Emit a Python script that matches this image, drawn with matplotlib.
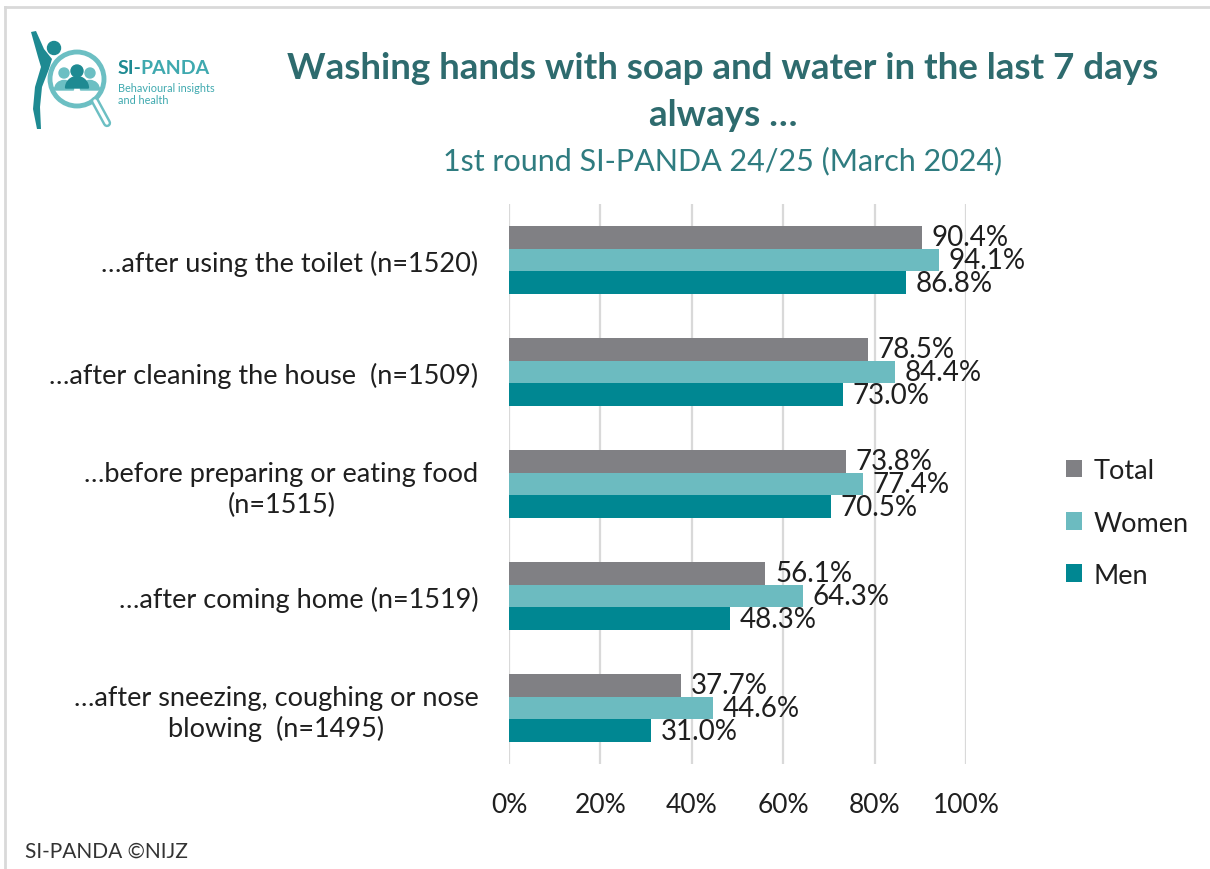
import matplotlib
matplotlib.use("Agg")
import matplotlib.pyplot as plt
from matplotlib.patches import Circle, Wedge, Polygon
from matplotlib.lines import Line2D
import numpy as np

plt.rcParams['font.family'] = ['Lato', 'DejaVu Sans']

categories = [
    "\u2026after using the toilet (n=1520)",
    "\u2026after cleaning the house  (n=1509)",
    "\u2026before preparing or eating food\n(n=1515)",
    "\u2026after coming home (n=1519)",
    "\u2026after sneezing, coughing or nose\nblowing  (n=1495)",
]
series_names = ["Total", "Women", "Men"]
total = [90.4, 78.5, 73.8, 56.1, 37.7]
women = [94.1, 84.4, 77.4, 64.3, 44.6]
men = [86.8, 73.0, 70.5, 48.3, 31.0]
xticks = [0, 20, 40, 60, 80, 100]
xtick_labels = ["0%", "20%", "40%", "60%", "80%", "100%"]

title = "Washing hands with soap and water in the last 7 days\nalways \u2026"
subtitle = "1st round SI-PANDA 24/25 (March 2024)"
footer = "SI-PANDA \u00a9NIJZ"

colors = ["#808084", "#6CBBC0", "#008792"]

W, H = 1210, 870
fig = plt.figure(figsize=(12.1, 8.7), dpi=100)

def fx(px):
    return px / W

def fy(py):
    return 1 - py / H

ax = fig.add_axes([fx(509), fy(765), fx(966) - fx(509), fy(205) - fy(765)])

bh = 0.205
y = np.arange(len(categories))
data = [total, women, men]
offsets = [-bh, 0, bh]
for vals, off, c, name in zip(data, offsets, colors, series_names):
    bars = ax.barh(y + off, vals, height=bh, color=c, label=name, zorder=3)
    for b, v in zip(bars, vals):
        ax.annotate(f"{v:.1f}%", xy=(v, b.get_y() + b.get_height() / 2),
                    xytext=(7, 0), textcoords="offset points",
                    ha="left", va="center", fontsize=20, color="#1F1F1F", zorder=4)

ax.set_xlim(0, 100)
ax.set_ylim(len(categories) - 0.5, -0.5)
ax.set_xticks(xticks)
ax.set_xticklabels(xtick_labels, fontsize=19, color="#1F1F1F")
ax.set_yticks(y)
ax.set_yticklabels(categories, fontsize=19.5, color="#1F1F1F")
for lab in ax.get_yticklabels():
    lab.set_multialignment("center")
    lab.set_linespacing(1.25)
ax.tick_params(axis="both", length=0)
ax.tick_params(axis="y", pad=22)
ax.tick_params(axis="x", pad=20)
for s in ax.spines.values():
    s.set_visible(False)
ax.grid(axis="x", color="#D9D9D9", linewidth=1.6, zorder=0)
ax.set_axisbelow(True)

leg = ax.legend(loc="center left", bbox_to_anchor=(fx(1052), fy(524)),
                bbox_transform=fig.transFigure, frameon=False, fontsize=19.5,
                handlelength=0.6, handleheight=0.6, handletextpad=0.45,
                labelspacing=1.0, borderpad=0)
for t in leg.get_texts():
    t.set_color("#1F1F1F")

# Title and subtitle
fig.text(fx(723), fy(92), title, ha="center", va="center", fontsize=26.5,
         fontweight="bold", color="#2E6B6E", linespacing=1.5)
fig.text(fx(723), fy(161), subtitle, ha="center", va="center", fontsize=22,
         color="#2F7C80")

# Footer
fig.text(fx(25), fy(852), footer, ha="left", va="center", fontsize=15,
         color="#333333")

# Border (top and left)
fig.add_artist(Line2D([fx(5), 1], [fy(8), fy(8)], transform=fig.transFigure,
                      color="#D9D9D9", linewidth=2))
fig.add_artist(Line2D([fx(5), fx(5)], [0, fy(8)], transform=fig.transFigure,
                      color="#D9D9D9", linewidth=2))

# Logo
lax = fig.add_axes([fx(25), fy(135), fx(115) - fx(25), fy(28) - fy(135)])
lax.set_xlim(25, 115)
lax.set_ylim(135, 28)
lax.axis("off")
teal_dark = "#1E8A92"
teal_light = "#6CBFC3"
# body figure
body = [(31, 33), (36, 32), (44, 50), (52, 60), (49, 70), (42, 88), (40, 108),
        (41, 130), (37, 130), (33, 110), (35, 88), (41, 68), (38, 58)]
lax.add_patch(Polygon(body, closed=True, color=teal_dark, lw=0))
lax.add_patch(Circle((54, 49), 6.5, color=teal_dark))
# magnifier
lax.add_patch(Circle((77, 80), 27, fill=False, ec=teal_light, lw=3.5))
lax.plot([95, 107], [102, 124], color=teal_light, lw=6, solid_capstyle="round")
lax.plot([95, 107], [102, 124], color="white", lw=2.5, solid_capstyle="round")
# people
for cx, cyh, col, r in [(64, 74, teal_light, 5), (90, 74, teal_light, 5), (77, 72, teal_dark, 6)]:
    lax.add_patch(Circle((cx, cyh), r, color=col))
    lax.add_patch(Wedge((cx, cyh + 17), r * 1.9, 180, 360, color=col))

fig.text(fx(118), fy(69), "SI-", ha="left", va="center", fontsize=14,
         fontweight="bold", color=teal_dark)
fig.text(fx(140), fy(69), "PANDA", ha="left", va="center", fontsize=14,
         fontweight="bold", color="#3FA9AF")
fig.text(fx(118), fy(88), "Behavioural insights", ha="left", va="center",
         fontsize=7.8, color="#3FA9AF")
fig.text(fx(118), fy(100), "and health", ha="left", va="center",
         fontsize=7.8, color="#3FA9AF")

fig.savefig("out.png", dpi=100)
